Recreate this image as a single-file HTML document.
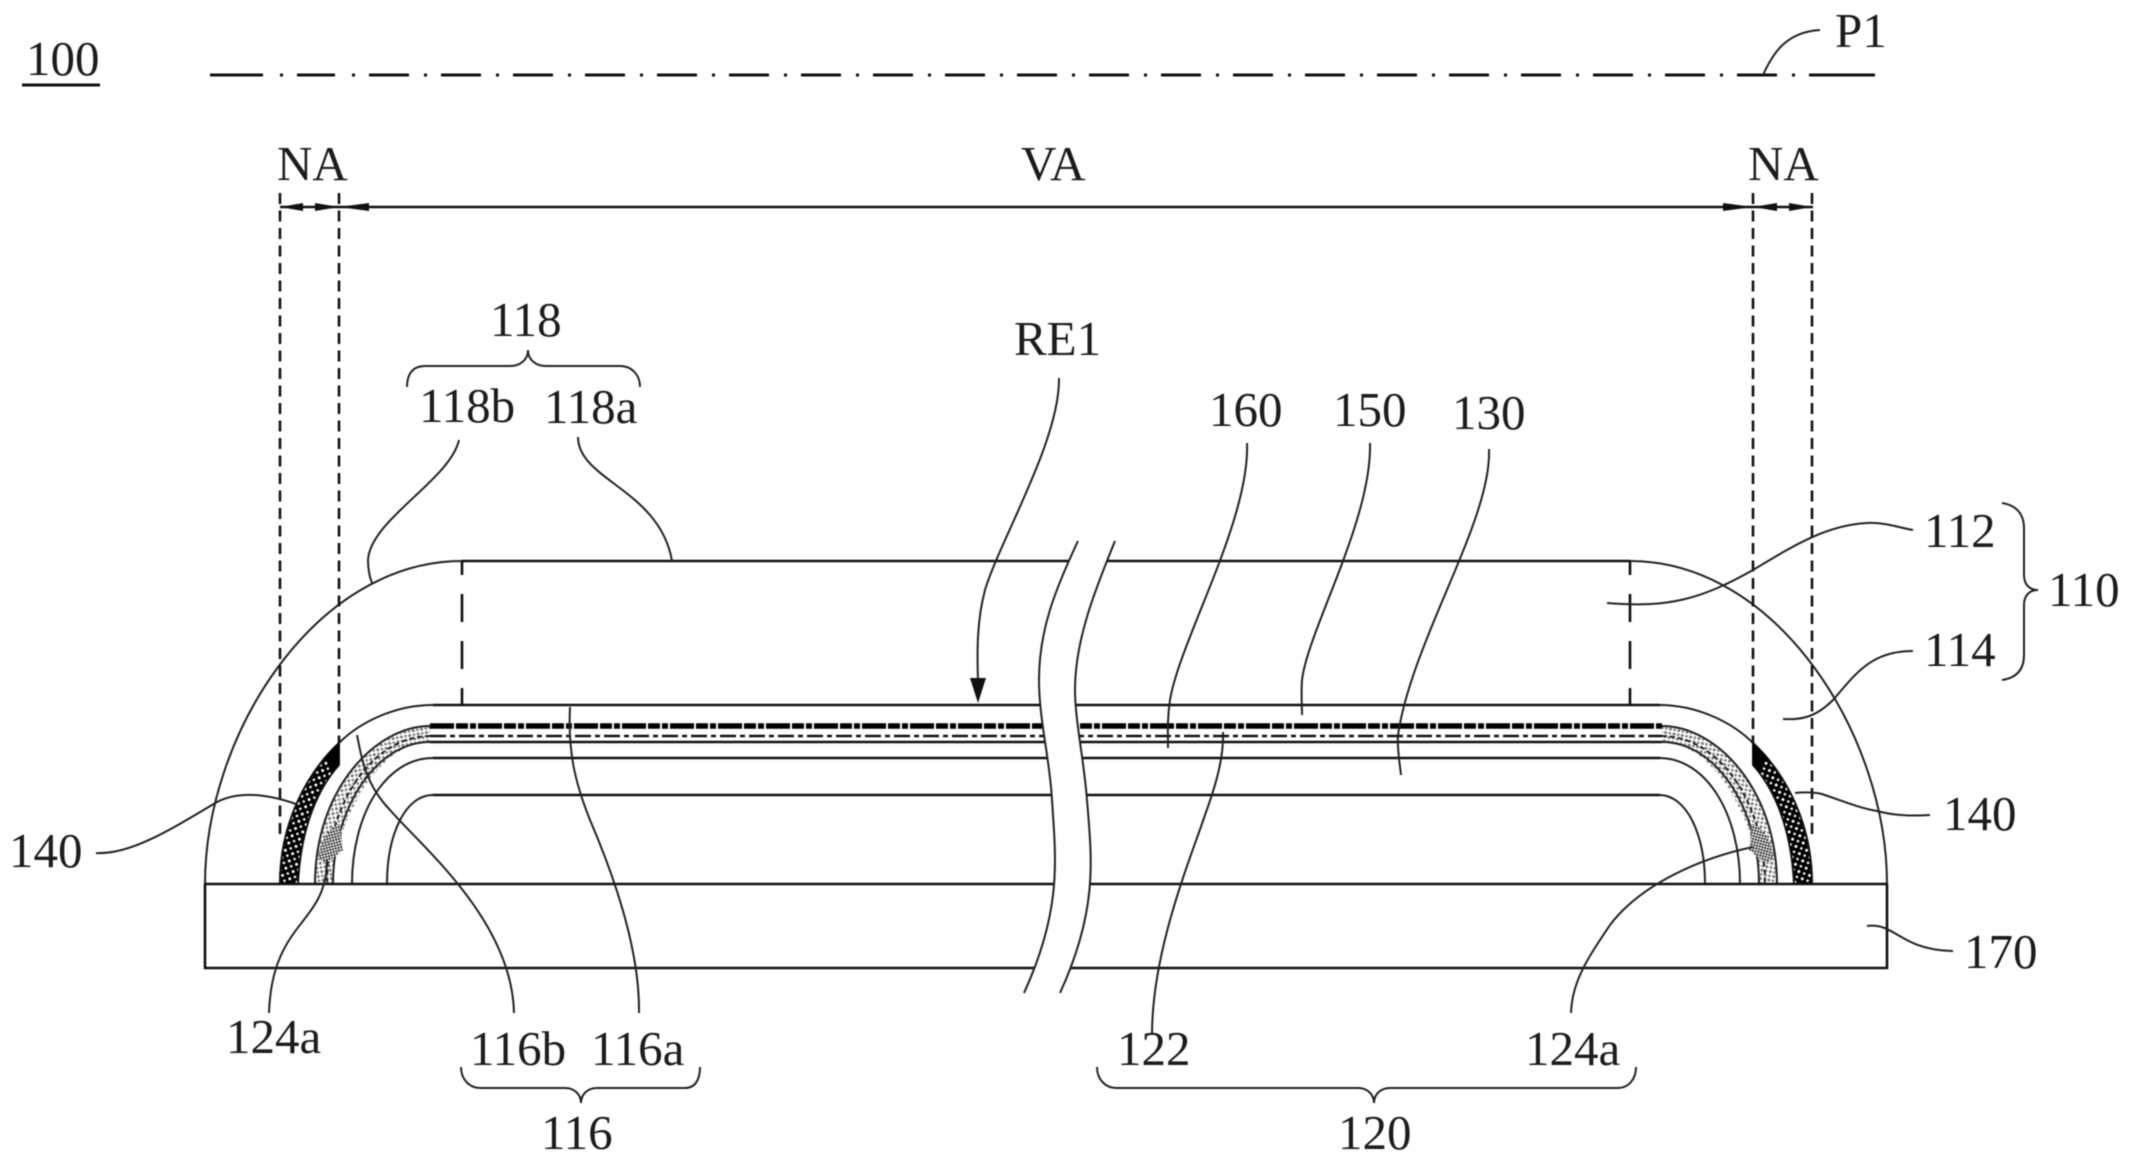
<!DOCTYPE html>
<html><head><meta charset="utf-8"><style>
html,body{margin:0;padding:0;background:#fff;width:2131px;height:1165px;overflow:hidden}
svg{display:block;filter:blur(.45px)}
text{font-family:"Liberation Serif",serif;font-size:49px;fill:#1c1c1c}
.l{fill:none;stroke:#222;stroke-width:2}
.m{fill:none;stroke:#111;stroke-width:2.6}
</style></head><body>
<svg width="2131" height="1165" viewBox="0 0 2131 1165" xmlns="http://www.w3.org/2000/svg">
<defs>
<pattern id="sp" width="8" height="8" patternUnits="userSpaceOnUse" patternTransform="rotate(25)">
<rect width="8" height="8" fill="#000"/>
<circle cx="2" cy="2" r="1.5" fill="#fff"/><circle cx="6" cy="6" r="1.3" fill="#fff"/>
</pattern>
<pattern id="gr" width="6" height="6" patternUnits="userSpaceOnUse" patternTransform="rotate(35)">
<rect width="6" height="6" fill="#fff"/>
<circle cx="1.5" cy="1.5" r="1.5" fill="#555"/><circle cx="4.5" cy="4.5" r="1.4" fill="#666"/>
</pattern>
<pattern id="gd" width="4" height="4" patternUnits="userSpaceOnUse" patternTransform="rotate(30)">
<rect width="4" height="4" fill="#fff"/>
<circle cx="1" cy="1" r="1.2" fill="#333"/><circle cx="3" cy="3" r="1.2" fill="#333"/>
</pattern>
<g id="side">
<path class="l" d="M205 884C205 735 315 561 462 561"/>
<path d="M462 561V705" class="m" stroke-dasharray="14 19 28 19 28 19 28"/>
<path class="l" d="M433 705C395 705 360 722 339 743C305 775 280 825 280 884"/>
<path d="M339 743C305 775 280 825 280 884H298C300 840 312 795 339 765Z" fill="url(#sp)" stroke="#111" stroke-width="2"/>
<path d="M339 743L325 757L331 772L339 765Z" fill="#000"/>
<path d="M430 726C375 726 315 790 315 884H333C333 830 375 742 430 742Z" fill="url(#gr)" opacity=".8"/>
<path class="l" stroke-width="1.5" d="M430 726C375 726 315 790 315 884"/>
<path class="l" d="M430 742C375 742 333 810 333 884"/>
<path class="l" d="M430 736C375 736 327 800 327 884" stroke-dasharray="5 3"/>
<path class="l" d="M433 758C385 758 352 815 352 884"/>
<path class="l" d="M433 795C405 795 387 835 387 884"/>
<path d="M318 860C320 840 328 828 340 824L343 850L328 862Z" fill="url(#gd)"/>
<path class="m" d="M280 193V840M339 193V743" stroke-dasharray="11 6.5"/>
<path d="M280 207L303 203V211ZM339 207L315 203V211ZM339 207L369 203V211Z" fill="#111"/>
</g>
</defs>

<use href="#side"/>
<use href="#side" transform="translate(2092,0) scale(-1,1)"/>
<path class="m" d="M462 561H1630M433 705H1660M430 742H1662M433 758H1660M433 795H1660M205 884H1887M205 884V968H1887V884"/>
<path d="M430 726H1662" stroke="#000" stroke-width="5.5" stroke-dasharray="24 2 12 2 6 2"/>
<path d="M430 736H1662" stroke="#111" stroke-width="2.4" stroke-dasharray="16 4 5 4"/>

<path d="M210 75H263M280 75h3M297 75h38M352 75h3M369 75h40M424 75h3M441 75h40M496 75h3M513 75h40M568 75h3M585 75h40M640 75h3M657 75h40M712 75h3M729 75h40M784 75h3M801 75h40M856 75h3M873 75h40M928 75h3M945 75h40M1000 75h3M1017 75h40M1072 75h3M1089 75h40M1144 75h3M1161 75h40M1216 75h3M1233 75h40M1288 75h3M1305 75h40M1360 75h3M1377 75h40M1432 75h3M1449 75h40M1504 75h3M1521 75h40M1576 75h3M1593 75h40M1648 75h3M1665 75h40M1720 75h3M1737 75h40M1792 75h3M1809 75h66" stroke="#111" stroke-width="3" fill="none"/>
<path d="M22 85H100" stroke="#111" stroke-width="3"/>
<path d="M280 207H1813" stroke="#111" stroke-width="2.6"/>

<path d="M1078 541C1055 590 1039 630 1039 680C1039 720 1050 760 1052 800C1056 860 1062 910 1024 993L1060 993C1098 910 1092 860 1087 800C1084 760 1075 720 1075 690C1075 640 1095 590 1115 541Z" fill="#fff"/>
<path class="l" d="M1078 541C1055 590 1039 630 1039 680C1039 720 1050 760 1052 800C1056 860 1062 910 1024 993"/>
<path class="l" d="M1115 541C1095 590 1075 640 1075 690C1075 720 1084 760 1087 800C1092 860 1098 910 1060 993"/>

<g class="l">
<path d="M459 440C450 480 370 520 368 560C368 570 370 578 372 583"/>
<path d="M578 437C578 480 660 490 672 561"/>
<path d="M1059 378C1060 440 1000 540 985 590C977 620 977 650 978 680"/>
<path d="M1247 443C1250 520 1180 640 1170 700C1167 720 1168 735 1168 748"/>
<path d="M1370 443C1372 520 1308 630 1302 680C1301 695 1302 705 1302 715"/>
<path d="M1489 449C1492 520 1412 640 1398 735C1397 750 1400 765 1401 775"/>
<path d="M1223 732C1224 760 1214 790 1205 815C1190 860 1152 950 1152 1035"/>
<path d="M570 707C568 750 574 780 590 820C605 855 640 940 639 1013"/>
<path d="M357 735C362 760 366 785 390 810C420 845 512 920 514 1013"/>
<path d="M327 860C327 925 272 920 269 1013"/>
<path d="M96 853C130 855 170 830 217 802C240 790 270 795 296 804"/>
<path d="M1795 793C1805 792 1813 792 1822 794C1845 802 1860 808 1877 811C1895 816 1915 816 1930 815"/>
<path d="M1607 603C1667 608 1700 600 1753 570C1790 548 1825 525 1867 523C1885 522 1900 528 1913 530"/>
<path d="M1783 719C1800 720 1815 718 1833 700C1855 675 1870 651 1913 651"/>
<path d="M1867 926C1895 922 1900 950 1953 951"/>
<path d="M1753 847C1700 858 1640 885 1610 925C1590 955 1572 980 1571 1013"/>
<path d="M1763 75C1772 55 1785 32 1820 30"/>
<path d="M407 387C407 375 412 366 425 366H510C520 366 528 360 528 350C528 360 536 366 546 366H620C632 366 640 375 640 387"/>
<path d="M461 1067C461 1080 470 1088 480 1088H565C575 1088 581 1095 581 1103C581 1095 587 1088 597 1088H685C695 1088 700 1080 700 1067"/>
<path d="M1097 1067C1097 1080 1106 1088 1116 1088H1358C1368 1088 1374 1095 1374 1103C1374 1095 1380 1088 1390 1088H1618C1628 1088 1636 1080 1636 1067"/>
<path d="M2002 503C2016 505 2024 514 2024 528V575C2024 585 2030 590 2038 590C2030 590 2024 595 2024 605V655C2024 670 2016 678 2002 680"/>
</g>
<path d="M978 703L970 678H986Z" fill="#111"/>

<text x="26" y="75">100</text>
<text x="1835" y="47">P1</text>
<text x="277" y="180">NA</text>
<text x="1021" y="180">VA</text>
<text x="1748" y="180">NA</text>
<text x="490" y="336">118</text>
<text x="419" y="422">118b</text>
<text x="544" y="423">118a</text>
<text x="1014" y="355">RE1</text>
<text x="1209" y="426">160</text>
<text x="1333" y="426">150</text>
<text x="1452" y="429">130</text>
<text x="1924" y="547">112</text>
<text x="1924" y="666">114</text>
<text x="2048" y="606">110</text>
<text x="1943" y="830">140</text>
<text x="1964" y="968">170</text>
<text x="9" y="867">140</text>
<text x="226" y="1053">124a</text>
<text x="470" y="1065">116b</text>
<text x="591" y="1065">116a</text>
<text x="1117" y="1065">122</text>
<text x="1525" y="1065">124a</text>
<text x="541" y="1149">116</text>
<text x="1338" y="1149">120</text>
</svg>
</body></html>
